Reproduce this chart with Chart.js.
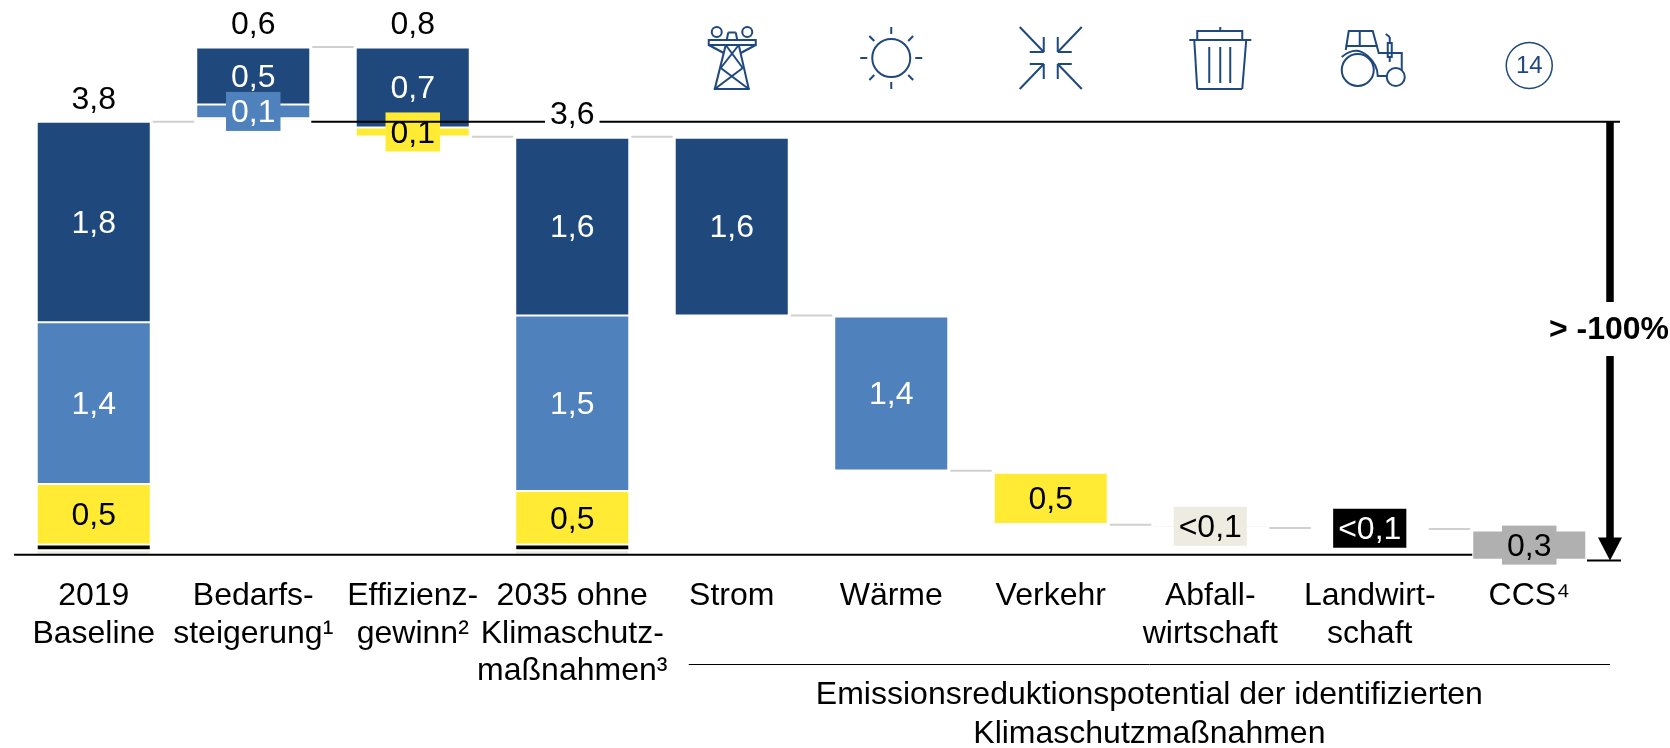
<!DOCTYPE html>
<html lang="de">
<head>
    <meta charset="UTF-8">
    <title>Emissionsreduktionspotential</title>
    <script src="https://cdn.jsdelivr.net/npm/chart.js"></script>
    <style>
        body {
            margin: 0;
            background: #fff;
        }
        canvas {
            display: block;
        }
    </style>
</head>
<body>

    <canvas id="wasserfall" width="1670" height="748"></canvas>

    <script>
        const categories = [
            ['2019', 'Baseline'],
            ['Bedarfs-', 'steigerung¹'],
            ['Effizienz-', 'gewinn²'],
            ['2035 ohne', 'Klimaschutz-', 'maßnahmen³'],
            ['Strom'],
            ['Wärme'],
            ['Verkehr'],
            ['Abfall-', 'wirtschaft'],
            ['Landwirt-', 'schaft'],
            ['CCS⁴']
        ];

        // bottom of each column, the segments below stack up from here
        const baseLevels = [0, 3.81, 3.67, 0, 2.10, 0.74, 0.27, 0.24, 0.225, -0.044];

        const beigeValues = [0.04, 0, 0, 0.04, 0, 0, 0, 0.02, 0, 0];
        const blackValues = [0.05, 0, 0, 0.05, 0, 0, 0, 0, 0.015, 0];
        const yellowValues = [0.53, 0.02, 0.08, 0.47, 0, 0, 0.45, 0, 0, 0];
        const blueValues = [1.42, 0.12, 0, 1.54, 0, 1.35, 0, 0, 0, 0];
        const darkValues = [1.76, 0.5, 0.7, 1.56, 1.56, 0, 0, 0, 0, 0];
        const greyValues = [0, 0, 0, 0, 0, 0, 0, 0, 0, 0.257];

        const beigeLabels = [null, null, null, null, null, null, null, '<0,1', null, null];
        const blackLabels = [null, null, null, null, null, null, null, null, '<0,1', null];
        const yellowLabels = ['0,5', null, '0,1', '0,5', null, null, '0,5', null, null, null];
        const blueLabels = ['1,4', '0,1', null, '1,5', null, '1,4', null, null, null, null];
        const darkLabels = ['1,8', '0,5', '0,7', '1,6', '1,6', null, null, null, null, null];
        const greyLabels = [null, null, null, null, null, null, null, null, null, '0,3'];

        const totalLabels = ['3,8', '0,6', '0,8', '3,6', null, null, null, null, null, null];

        // level of the grey line between column i and i + 1
        const connectorLevels = [3.8, 4.455, 3.667, 3.667, 2.10, 0.737, 0.263, 0.234, 0.225];

        const referenceLevel = 3.8;
        const arrowEndLevel = -0.05;
        const arrowLabel = '> -100%';
        const groupCaption = ['Emissionsreduktionspotential der identifizierten', 'Klimaschutzmaßnahmen'];

        const BAR_SHARE = 0.715;
        const FONT = '"Liberation Sans", Arial, sans-serif';
        const ICON_BLUE = '#1F497D';

        function buildRanges(series) {
            const running = baseLevels.slice();
            return series.map(values => values.map((v, i) => {
                if (!v) return null;
                const range = [running[i], running[i] + v];
                running[i] += v;
                return range;
            }));
        }

        const ranges = buildRanges([beigeValues, blackValues, yellowValues, blueValues, darkValues, greyValues]);

        function makeSet(name, index, color, labels, textColor) {
            return {
                label: name,
                data: ranges[index],
                backgroundColor: color,
                borderColor: '#fff',
                borderWidth: 1,
                borderSkipped: false,
                barPercentage: BAR_SHARE,
                categoryPercentage: 1,
                segmentLabels: labels,
                segmentTextColor: textColor
            };
        }

        function line(ctx, x1, y1, x2, y2) {
            ctx.beginPath();
            ctx.moveTo(x1, y1);
            ctx.lineTo(x2, y2);
            ctx.stroke();
        }

        function circle(ctx, x, y, r) {
            ctx.beginPath();
            ctx.arc(x, y, r, 0, Math.PI * 2);
            ctx.stroke();
        }

        function drawTower(ctx, c) {
            circle(ctx, c - 15, 32, 5);
            circle(ctx, c + 15.5, 32, 5);
            ctx.strokeRect(c - 23, 40, 47, 5);
            line(ctx, c - 5, 40, c - 3.5, 32.5);
            line(ctx, c - 3.5, 32.5, c + 4, 32.5);
            line(ctx, c + 4, 32.5, c + 5.5, 40);
            line(ctx, c - 23, 45, c - 8, 53);
            line(ctx, c + 24, 45, c + 9, 53);
            line(ctx, c - 6, 45, c - 17, 89);
            line(ctx, c + 7, 45, c + 17, 89);
            line(ctx, c - 18, 89, c + 18, 89);
            line(ctx, c - 6, 45, c + 11, 68);
            line(ctx, c + 7, 45, c - 11, 68);
            line(ctx, c - 11, 68, c + 17, 89);
            line(ctx, c + 11, 68, c - 17, 89);
        }

        function drawSun(ctx, c) {
            circle(ctx, c, 58, 19);
            for (let i = 0; i < 8; i++) {
                const a = i * Math.PI / 4;
                line(ctx, c + 24 * Math.cos(a), 58 + 24 * Math.sin(a), c + 31 * Math.cos(a), 58 + 31 * Math.sin(a));
            }
        }

        function drawArrowsIn(ctx, c) {
            [[-1, -1], [1, -1], [-1, 1], [1, 1]].forEach(([sx, sy]) => {
                line(ctx, c + sx * 31, 58 + sy * 31, c + sx * 7, 58 + sy * 6);
                line(ctx, c + sx * 21, 58 + sy * 6, c + sx * 7, 58 + sy * 6);
                line(ctx, c + sx * 7, 58 + sy * 21, c + sx * 7, 58 + sy * 6);
            });
        }

        function drawBin(ctx, c) {
            // the bin sits a little right of its column
            const b = c + 10;
            line(ctx, b, 27, b, 31);
            ctx.strokeRect(b - 23, 31, 45, 9);
            line(ctx, b - 31, 40, b + 31, 40);
            line(ctx, b - 26, 40, b - 23, 89);
            line(ctx, b + 26, 40, b + 22, 89);
            line(ctx, b - 23, 89, b + 22, 89);
            [-11, 0, 10].forEach(dx => line(ctx, b + dx, 47, b + dx, 83));
        }

        function drawTractor(ctx, c) {
            circle(ctx, c - 12, 70, 16);
            circle(ctx, c + 26, 77, 9);
            ctx.beginPath();
            ctx.moveTo(c - 28, 57);
            ctx.quadraticCurveTo(c - 14, 45, c - 2, 56);
            ctx.quadraticCurveTo(c + 8, 65, c + 8, 76);
            ctx.lineTo(c + 17, 76);
            ctx.stroke();
            ctx.beginPath();
            ctx.moveTo(c - 24, 50);
            ctx.lineTo(c - 21, 31);
            ctx.lineTo(c + 3, 31);
            ctx.lineTo(c + 9, 53);
            ctx.lineTo(c + 32, 53);
            ctx.lineTo(c + 32, 70);
            ctx.stroke();
            line(ctx, c - 10, 31, c - 10, 46);
            line(ctx, c - 24, 46, c + 8, 46);
            ctx.strokeRect(c + 18, 43, 4, 14);
            line(ctx, c + 20, 57, c + 20, 62);
            line(ctx, c + 20, 43, c + 20, 37);
            line(ctx, c + 20, 37, c + 16, 34);
        }

        function drawBadge(ctx, c) {
            ctx.lineWidth = 1.5;
            circle(ctx, c, 65.5, 23);
            ctx.fillStyle = ICON_BLUE;
            ctx.font = '24px ' + FONT;
            ctx.textAlign = 'center';
            ctx.textBaseline = 'middle';
            ctx.fillText('14', c, 66.5);
        }

        const iconDrawers = [null, null, null, null, drawTower, drawSun, drawArrowsIn, drawBin, drawTractor, drawBadge];

        const overlayPlugin = {
            id: 'overlay',
            afterDatasetsDraw(chart) {
                const ctx = chart.ctx;
                const x = chart.scales.x;
                const y = chart.scales.y;
                const halfBar = x.width / categories.length * BAR_SHARE / 2;
                const cx = i => x.getPixelForTick(i);

                ctx.save();
                ctx.lineCap = 'butt';

                // baseline runs up to the CCS column
                ctx.strokeStyle = '#000';
                ctx.lineWidth = 2;
                line(ctx, chart.chartArea.left, y.getPixelForValue(0), cx(9) - halfBar, y.getPixelForValue(0));

                ctx.strokeStyle = '#D0D0D0';
                connectorLevels.forEach((level, i) => {
                    const py = y.getPixelForValue(level);
                    line(ctx, cx(i) + halfBar + 2, py, cx(i + 1) - halfBar - 2, py);
                });

                // short segments get a box so the number still fits
                ctx.font = '32px ' + FONT;
                ctx.textAlign = 'center';
                ctx.textBaseline = 'middle';
                const texts = [];
                chart.data.datasets.forEach((set, d) => {
                    chart.getDatasetMeta(d).data.forEach((bar, i) => {
                        const text = set.segmentLabels[i];
                        if (!text) return;
                        const midY = (bar.y + bar.base) / 2;
                        if (Math.abs(bar.base - bar.y) < 39) {
                            const w = ctx.measureText(text).width + 10;
                            ctx.fillStyle = set.backgroundColor;
                            ctx.fillRect(bar.x - w / 2, midY - 19.5, w, 39);
                        }
                        texts.push([text, bar.x, midY, set.segmentTextColor]);
                    });
                });

                const refY = y.getPixelForValue(referenceLevel);
                const arrowX = chart.chartArea.right + 1;
                ctx.strokeStyle = '#000';
                line(ctx, cx(1) + halfBar + 1, refY, arrowX + 10, refY);

                texts.forEach(([text, tx, ty, color]) => {
                    ctx.fillStyle = color;
                    ctx.fillText(text, tx, ty + 2);
                });

                totalLabels.forEach((text, i) => {
                    if (!text) return;
                    const topY = y.getPixelForValue(ranges.reduce((top, r) => r[i] ? r[i][1] : top, 0));
                    const w = ctx.measureText(text).width + 10;
                    ctx.fillStyle = '#fff';
                    ctx.fillRect(cx(i) - w / 2, topY - 24 - 15, w, 30);
                    ctx.fillStyle = '#000';
                    ctx.fillText(text, cx(i), topY - 22);
                });

                // reduction arrow
                const endY = y.getPixelForValue(arrowEndLevel);
                ctx.lineWidth = 7.5;
                line(ctx, arrowX, refY, arrowX, endY - 20);
                ctx.fillStyle = '#000';
                ctx.beginPath();
                ctx.moveTo(arrowX - 12, endY - 23);
                ctx.lineTo(arrowX + 12, endY - 23);
                ctx.lineTo(arrowX, endY);
                ctx.closePath();
                ctx.fill();
                ctx.lineWidth = 2;
                line(ctx, arrowX - 23, endY, arrowX + 11, endY);

                ctx.fillStyle = '#fff';
                ctx.fillRect(arrowX - 8, 302, 16, 54);
                ctx.fillStyle = '#000';
                ctx.font = 'bold 32px ' + FONT;
                ctx.fillText(arrowLabel, arrowX - 1, 330);

                // bracket text under the measures
                ctx.lineWidth = 1;
                line(ctx, cx(4) - 43, 664.5, arrowX, 664.5);
                ctx.font = '32px ' + FONT;
                const captionX = (cx(4) - 43 + arrowX) / 2;
                groupCaption.forEach((text, i) => ctx.fillText(text, captionX, 695 + i * 39));

                // icons above the measures
                ctx.strokeStyle = ICON_BLUE;
                iconDrawers.forEach((draw, i) => {
                    if (!draw) return;
                    ctx.save();
                    ctx.lineWidth = 2;
                    draw(ctx, cx(i));
                    ctx.restore();
                });

                ctx.restore();
            }
        };

        new Chart(document.getElementById('wasserfall').getContext('2d'), {
            type: 'bar',
            data: {
                labels: categories,
                datasets: [
                    makeSet('Abfallwirtschaft', 0, '#EEECE1', beigeLabels, '#000'),
                    makeSet('Landwirtschaft', 1, '#000000', blackLabels, '#fff'),
                    makeSet('Verkehr', 2, '#FFEB33', yellowLabels, '#000'),
                    makeSet('Wärme', 3, '#4F81BD', blueLabels, '#fff'),
                    makeSet('Strom', 4, '#1F497D', darkLabels, '#fff'),
                    makeSet('CCS', 5, '#B0B0B0', greyLabels, '#000')
                ]
            },
            options: {
                responsive: false,
                animation: false,
                layout: {
                    padding: { left: 14, right: 61, top: 10, bottom: 0 }
                },
                plugins: {
                    legend: { display: false },
                    tooltip: { enabled: false }
                },
                scales: {
                    x: {
                        stacked: true,
                        border: { display: false },
                        grid: { display: false },
                        afterFit(scale) {
                            scale.height = 183;
                        },
                        ticks: {
                            autoSkip: false,
                            maxRotation: 0,
                            padding: 5,
                            color: '#000',
                            font: { family: FONT, size: 32, lineHeight: 1.166 }
                        }
                    },
                    y: {
                        display: false,
                        min: -0.09,
                        max: 4.78
                    }
                }
            },
            plugins: [overlayPlugin]
        });
    </script>

</body>
</html>
